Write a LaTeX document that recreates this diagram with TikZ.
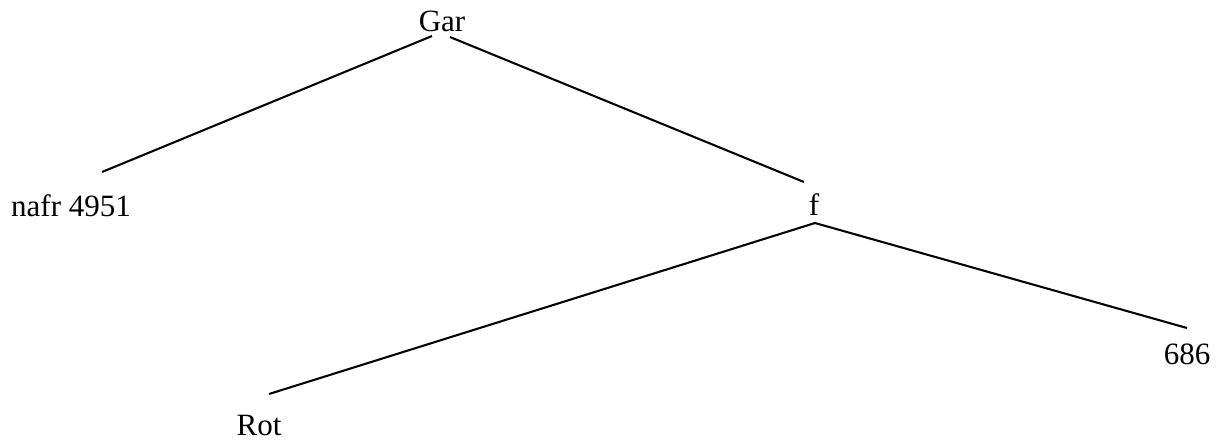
\documentclass[tikz,border=0pt]{standalone}
\usepackage{fontspec}
\setmainfont{Liberation Serif}
\tikzset{
	leaf/.style={inner sep=0pt, anchor=base, font=\fontsize{12}{14}\selectfont},
	branch/.style={line width=0.8pt}
}

\begin{document}
\begin{tikzpicture}[x=0.387pt, y=-0.387pt]
	\useasboundingbox (0,0) rectangle (1220,439);
	\node [leaf] (gar) at (442,31) {Gar};
	\node [leaf] (nafr) at (71,216) {nafr 4951};
	\node [leaf] (f) at (814,215) {f};
	\node [leaf] (rot) at (259,435) {Rot};
	\node [leaf] (n686) at (1187,364) {686};
	
	\draw [branch] ([shift={(-10,5)}]gar.base) -- ([shift={(31,-44)}]nafr.base);
	\draw [branch] ([shift={(8,6)}]gar.base) -- ([shift={(-10,-33)}]f.base);
	
	\draw [branch] ([shift={(1,8)}]f.base) -- ([shift={(10,-41)}]rot.base);
	\draw [branch] ([shift={(1,8)}]f.base) -- ([shift={(0,-36)}]n686.base);
\end{tikzpicture}
\end{document}
